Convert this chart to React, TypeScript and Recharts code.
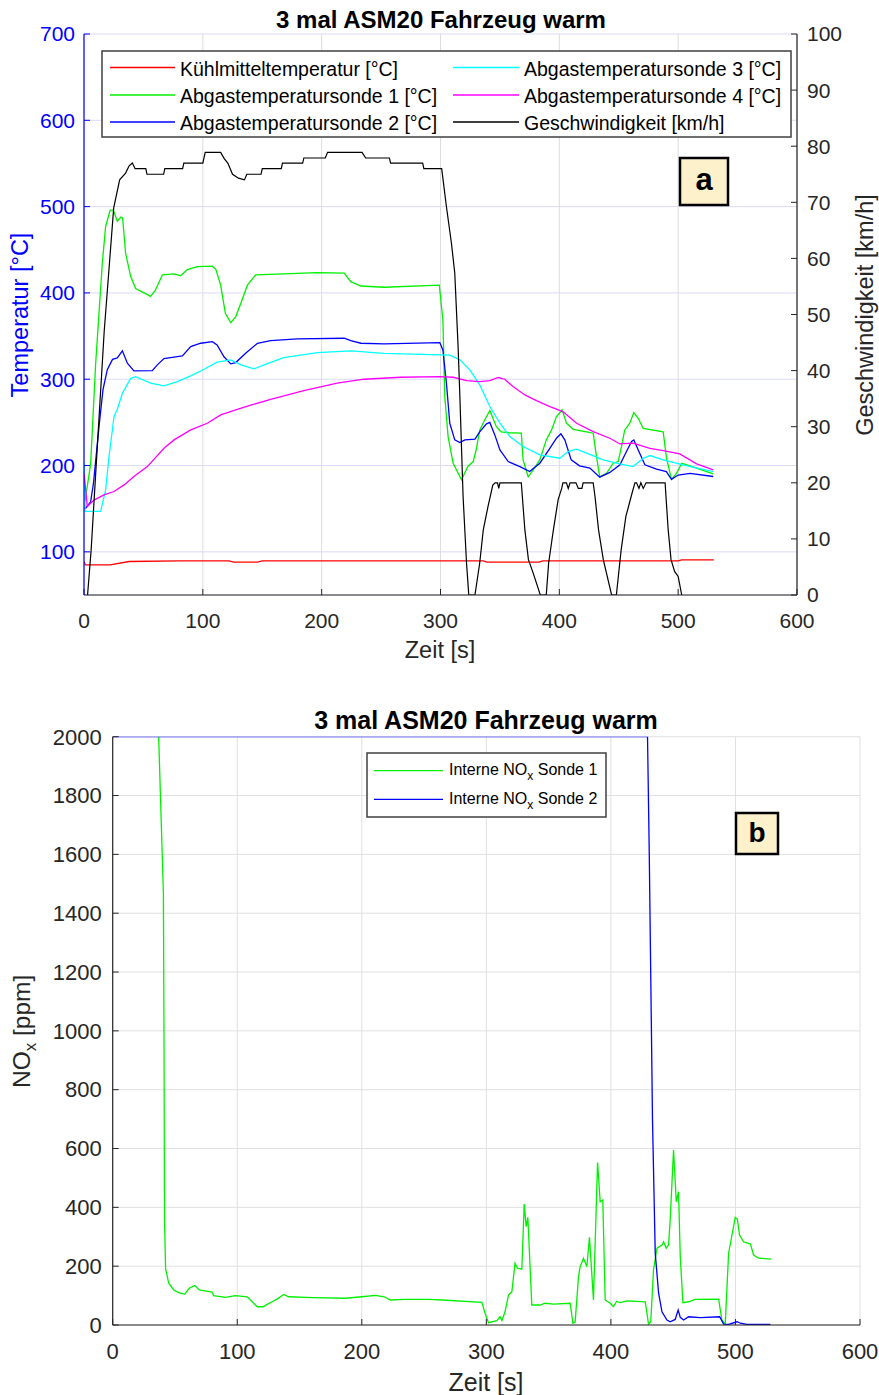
import React from "react";
import { LineChart, Line, XAxis, YAxis, CartesianGrid } from "recharts";

type Pair = [number, number];

const FONT = '"Liberation Sans", Arial, Helvetica, sans-serif';
const AXIS = "#262626";

const timeTicks = [0, 100, 200, 300, 400, 500, 600];
const tempTicks = [100, 200, 300, 400, 500, 600, 700];
const speedTicks = [0, 10, 20, 30, 40, 50, 60, 70, 80, 90, 100];
const noxTicks = [0, 200, 400, 600, 800, 1000, 1200, 1400, 1600, 1800, 2000];

// [Zeit s, Temperatur °C]
const coolantTemp: Pair[] = [
  [0, 89], [1, 85], [22, 85], [38, 88.8], [80, 89.6], [122, 89.6], [126, 88], [146, 88], [150, 89.6],
  [336, 89.6], [339, 88], [383, 88], [386, 89.6], [500, 89.6], [503, 90.7], [530, 90.7],
];

const exhaustProbe1: Pair[] = [
  [0, 162], [1, 160], [5.6, 202], [9.8, 318], [12.6, 376], [15.4, 434], [18.2, 477], [22, 496], [24.7, 496],
  [28, 483], [31, 488], [32.5, 487], [35, 446], [39.3, 419], [43.5, 405], [50.5, 400], [56, 396], [60, 403],
  [66, 421], [75.8, 422], [81.4, 420], [87, 427], [95.4, 430.5], [108, 431], [111, 427], [115, 409], [119, 376],
  [123.5, 365.6], [127.7, 372.6], [132, 388], [137.5, 409], [144.5, 421], [168, 422], [196, 423.6], [219, 423],
  [224.5, 413], [233, 408], [252.5, 406.6], [299, 409], [302, 368.7], [303.6, 280], [306.4, 233.6], [310.6, 202.7],
  [317.7, 183.4], [323, 199], [327.5, 204.6], [330, 218], [333, 241], [337.3, 253], [341.5, 263.7], [347, 245],
  [351, 239], [358, 238], [368, 237.5], [369.5, 206.6], [373.8, 187], [378, 195], [383.6, 206.6], [389, 229.7],
  [393.4, 241], [397.6, 256.7], [402.4, 264.5], [406, 249], [411.6, 242], [423, 239], [428.5, 237.5], [431.3, 210],
  [434, 187], [439.7, 191], [445.3, 202.7], [449.5, 204.6], [452.3, 222], [455, 241], [459.3, 249], [462.7, 261.4],
  [466.4, 254.8], [470.6, 243], [487.4, 239], [490.2, 208.5], [494.4, 184], [498.6, 191], [503, 202.7],
  [509.9, 199.6], [529.5, 190.3],
];

const exhaustProbe2: Pair[] = [
  [0, 151], [1.4, 150.6], [5.6, 158], [8, 180], [10.5, 215], [13, 250], [16, 288], [19.6, 311], [24, 323],
  [28, 324.8], [32.3, 333], [36.5, 318.5], [42, 309.7], [57.5, 310], [61.7, 316.6], [67.3, 324], [77, 326],
  [82.8, 327], [89.8, 337.8], [98.2, 341.7], [108, 343.6], [112, 339.8], [117.8, 326], [123.5, 317.8],
  [127.7, 319.3], [136, 330], [146, 341.7], [157, 344.8], [179.6, 346.7], [219, 347.5], [224.5, 344.8],
  [233, 341.7], [252.5, 341], [299.4, 342.5], [302, 334], [305, 295.4], [307.8, 249], [312, 229.7],
  [316.3, 226.6], [320.5, 229.7], [329, 230.5], [333, 239], [338.7, 248.3], [341.5, 250], [345.7, 235.5],
  [350, 218], [357, 204.6], [366.8, 198.8], [375, 193], [383.6, 202.7], [392, 220], [397.6, 231.6],
  [401.3, 236.7], [404.6, 229.7], [410, 206.6], [417, 199.6], [425.7, 197], [434, 186.5], [442.5, 192],
  [451, 200.8], [456.5, 216.2], [460.8, 227.8], [462.7, 229.7], [466.4, 218], [472, 200.8], [481.8, 195.8],
  [490, 193], [494.4, 184], [500, 189], [510, 191], [529.5, 187.3],
];

const exhaustProbe3: Pair[] = [
  [0, 203], [1, 147], [14, 147], [18.2, 171.8], [21, 210], [25.3, 256.8], [28, 265], [32.3, 283.8], [39.3, 301],
  [43.5, 303], [56, 295.4], [67.3, 292.3], [78.6, 297.3], [89.8, 303.9], [101, 311.6], [112, 319.7],
  [123.5, 322.4], [132, 316.6], [143, 312], [151.5, 316.6], [168, 325], [196.4, 330.9], [224.5, 332.8],
  [252.5, 330], [307.8, 328], [316.3, 322.4], [324.7, 310.8], [333, 293.5], [341.5, 268.4], [350, 249],
  [358.3, 233.6], [369.5, 222], [383.6, 212.4], [400.4, 208.5], [407.4, 216.2], [414.5, 218.9], [423, 214.3],
  [437, 206.6], [451, 202], [462, 198.8], [470.6, 208.5], [476.2, 211.6], [487.4, 206.6], [504, 200.8],
  [529.5, 193],
];

const exhaustProbe4: Pair[] = [
  [0, 191], [2.8, 152.5], [8.4, 160], [16.8, 166], [25.3, 169.9], [33.7, 177.6], [42, 187.3], [53.3, 198.8],
  [67.3, 220], [75.8, 229.7], [89.8, 241.3], [103.8, 249], [115, 258.7], [129, 265.2], [140.3, 269.9],
  [157, 276.8], [185, 286.9], [213, 295.4], [235.7, 300], [266.6, 302.3], [299.4, 303], [310.6, 302.3],
  [322, 298.5], [333, 297.3], [341.5, 298.5], [348.5, 302], [354, 300], [361, 291.5], [371, 281.8],
  [380.8, 275.3], [392, 268.3], [403, 262.5], [414.5, 249], [428.5, 239.4], [442.5, 231.6], [451, 225],
  [462, 225.9], [476.2, 220], [487.4, 217.4], [501.4, 213.5], [515.5, 202], [529.5, 195],
];

// [Zeit s, Geschwindigkeit km/h]
const vehicleSpeed: Pair[] = [
  [3, 0], [6, 8], [17, 47], [25, 69], [30, 74], [35, 75.2], [38, 76.5], [40.7, 77], [43, 76], [52, 76], [53, 75],
  [67, 75], [68, 76], [83, 76], [84, 77], [100, 77], [102, 78.9], [115, 78.9], [118, 77.8], [121, 77], [125, 75],
  [130, 74.3], [135, 74], [137, 75], [149, 75], [150, 76], [166, 76], [167, 77], [184, 77], [185, 77.9],
  [203, 77.9], [205, 78.9], [234, 78.9], [237, 77.9], [257, 77.9], [258, 77], [285, 77], [286, 76], [301, 76],
  [305, 69.2], [309.2, 62.7], [312, 57.4], [314.8, 44.3], [316.3, 35.4], [319, 17.6], [321.9, 5.7], [323.8, 0],
  [329, 0], [333, 5.7], [336, 11.6], [340, 15.8], [344, 19.6], [346, 20], [348, 20], [349, 19], [350, 20],
  [368, 20], [371, 11.6], [374, 6.3], [378, 3.9], [384, 0], [389, 0], [391, 5.7], [395, 11.6], [399, 17],
  [402, 19], [403, 20], [406, 20], [407.5, 19], [409, 20], [414, 20], [416, 19], [419, 19], [420, 20],
  [428.5, 20], [430, 17.6], [433, 11.6], [437, 6.3], [444, 0], [448, 0], [452, 8], [456, 14], [461, 18],
  [463.6, 20], [465, 20], [467, 19], [468.6, 20], [470.6, 19], [473, 20], [489, 20], [491.6, 11.6], [494, 6.3],
  [497, 4.2], [500, 3.3], [503, 0],
];

// [Zeit s, NOx ppm]
const noxProbe1: Pair[] = [
  [36.9, 2000], [40.7, 1468], [41.2, 969], [41.6, 357], [42.5, 190], [45, 142], [49, 119], [53, 110],
  [57.8, 105], [61.5, 125], [65.8, 134], [69.6, 119], [79.8, 112], [81, 100], [90.5, 94], [98.5, 100],
  [108, 96], [112, 79], [116, 62], [121, 62], [124, 70], [128, 79], [132, 88], [137.3, 104], [141.3, 96],
  [160, 93], [187, 91], [200, 96], [211, 101], [218, 96], [223, 85], [235, 87], [254, 87], [264.5, 85],
  [296.4, 77], [299, 40], [301.7, 8], [308.4, 15], [311, 28], [312.5, 15], [315, 45], [317.8, 102],
  [320.5, 113], [323, 210], [325, 193], [328.5, 190], [330.4, 411], [332, 334], [333.3, 366], [336.5, 68],
  [343.2, 68], [347.2, 74], [354, 71], [367.3, 74], [369.5, 6], [371.3, 10], [374, 165], [375.3, 198],
  [378, 227], [380.7, 198], [382.8, 298], [386, 85], [389.3, 552], [391.4, 419], [393.5, 425], [395.4, 85],
  [399.5, 74], [402, 62], [404.5, 80], [407.5, 76], [412.8, 82], [427.6, 79], [430.2, 3], [432, 10],
  [434.2, 187], [437, 261], [441, 272], [442.3, 283], [444.4, 261], [446.3, 272], [447.6, 357], [450.3, 595],
  [452.5, 419], [454.3, 453], [455.7, 232], [457.8, 76], [462.4, 79], [467.7, 87], [486.5, 88], [489.1, 17],
  [491.8, 3], [494.5, 244], [499.8, 366], [501.5, 360], [503.3, 306], [506.5, 283], [512, 275], [514.6, 238],
  [518.6, 227], [528.8, 224],
];

const noxProbe2: Pair[] = [
  [0, 2000], [429.4, 2000], [430.8, 1603], [432.6, 980], [433.4, 697], [435.6, 244], [438.3, 108], [441, 45],
  [445, 17], [447.6, 11], [451.6, 19], [454, 51], [455.7, 26], [458.4, 17], [462.4, 28], [471.7, 25],
  [487.3, 28], [490.5, 3], [494.5, 2], [501.2, 11], [504, 6], [509.2, 2], [528, 2],
];

const toPoints = (pairs: Pair[]) => pairs.map(([t, v]) => ({ t, v }));

const tempSeries = [
  { name: "Kühlmitteltemperatur [°C]", color: "#ff0000", data: coolantTemp },
  { name: "Abgastemperatursonde 1 [°C]", color: "#00f000", data: exhaustProbe1 },
  { name: "Abgastemperatursonde 2 [°C]", color: "#0000ff", data: exhaustProbe2 },
  { name: "Abgastemperatursonde 3 [°C]", color: "#00ffff", data: exhaustProbe3 },
  { name: "Abgastemperatursonde 4 [°C]", color: "#ff00ff", data: exhaustProbe4 },
];
const speedSeries = { name: "Geschwindigkeit [km/h]", color: "#000000", data: vehicleSpeed };

const topLegend = [...tempSeries, speedSeries];
const noxSeries = [
  { label: "Sonde 1", color: "#00f000", data: noxProbe1 },
  { label: "Sonde 2", color: "#0000ff", data: noxProbe2 },
];

const tickStyle = (fill: string, size: number) => ({ fill, fontSize: size, fontFamily: FONT });

const TemperatureChart = () => (
  <LineChart width={879} height={680} margin={{ top: 34, right: 0, bottom: 25, left: 0 }}>
    <CartesianGrid yAxisId="temp" vertical={false} stroke="#dadaf8" strokeWidth={1} />
    <CartesianGrid yAxisId="temp" horizontal={false} stroke="#dcdce2" strokeWidth={1} />
    <XAxis
      dataKey="t" type="number" domain={[0, 600]} ticks={timeTicks} interval={0} height={60}
      tickSize={-6} tickMargin={24} allowDataOverflow
      axisLine={{ stroke: AXIS, strokeWidth: 1.2 }} tickLine={{ stroke: AXIS }} tick={tickStyle(AXIS, 21)}
    />
    <YAxis
      yAxisId="temp" orientation="left" type="number" domain={[50, 700]} ticks={tempTicks} interval={0}
      width={84} tickSize={-6} tickMargin={15} allowDataOverflow
      axisLine={{ stroke: "#0000ff", strokeWidth: 1.2 }} tickLine={{ stroke: "#0000ff" }} tick={tickStyle("#0000ff", 21)}
    />
    <YAxis
      yAxisId="speed" orientation="right" type="number" domain={[0, 100]} ticks={speedTicks} interval={0}
      width={82} tickSize={-6} tickMargin={16} allowDataOverflow
      axisLine={{ stroke: AXIS, strokeWidth: 1.2 }} tickLine={{ stroke: AXIS }} tick={tickStyle(AXIS, 21)}
    />
    {tempSeries.map((s) => (
      <Line
        key={s.name} yAxisId="temp" data={toPoints(s.data)} dataKey="v" name={s.name} type="linear"
        stroke={s.color} strokeWidth={1.3} dot={false} isAnimationActive={false}
      />
    ))}
    <Line
      yAxisId="speed" data={toPoints(speedSeries.data)} dataKey="v" name={speedSeries.name} type="linear"
      stroke={speedSeries.color} strokeWidth={1.2} dot={false} isAnimationActive={false}
    />
  </LineChart>
);

const NoxChart = () => (
  <LineChart width={879} height={695} margin={{ top: 36.7, right: 19, bottom: 20, left: 0 }}>
    <CartesianGrid stroke="#e0e0e0" strokeWidth={1} />
    <XAxis
      dataKey="t" type="number" domain={[0, 600]} ticks={timeTicks} interval={0} height={50}
      tickSize={-6} tickMargin={24} allowDataOverflow
      axisLine={{ stroke: AXIS, strokeWidth: 1.2 }} tickLine={{ stroke: AXIS }} tick={tickStyle(AXIS, 22)}
    />
    <YAxis
      type="number" domain={[0, 2000]} ticks={noxTicks} interval={0} width={112.7}
      tickSize={-6} tickMargin={17} allowDataOverflow
      axisLine={{ stroke: AXIS, strokeWidth: 1.2 }} tickLine={{ stroke: AXIS }} tick={tickStyle(AXIS, 22)}
    />
    {noxSeries.map((s) => (
      <Line
        key={s.label} data={toPoints(s.data)} dataKey="v" name={s.label} type="linear"
        stroke={s.color} strokeWidth={1.3} dot={false} isAnimationActive={false}
      />
    ))}
  </LineChart>
);

// titles, axis labels, legends and panel tags drawn on top of both charts
const Annotations = () => {
  const rowsY = [67.5, 95, 122];
  const cols = [
    { x1: 110, x2: 175, tx: 180 },
    { x1: 453, x2: 519, tx: 524 },
  ];
  return (
    <svg
      width={879} height={1395} fontFamily={FONT}
      style={{ position: "absolute", left: 0, top: 0, pointerEvents: "none" }}
    >
      {/* panel a */}
      <text x={441} y={28} textAnchor="middle" fontSize={24} fontWeight="bold" fill="#000">
        3 mal ASM20 Fahrzeug warm
      </text>
      <text x={440} y={658} textAnchor="middle" fontSize={23.5} fill={AXIS}>Zeit [s]</text>
      <text x={28} y={315} textAnchor="middle" fontSize={23.5} fill="#0000ff" transform="rotate(-90 28 315)">
        Temperatur [°C]
      </text>
      <text x={873} y={315} textAnchor="middle" fontSize={23.5} fill={AXIS} transform="rotate(-90 873 315)">
        Geschwindigkeit [km/h]
      </text>
      <rect x={102} y={51} width={689} height={86} fill="#fff" stroke="#404040" strokeWidth={1.5} />
      {topLegend.map((s, i) => {
        const c = cols[Math.floor(i / 3)];
        const y = rowsY[i % 3];
        return (
          <g key={s.name}>
            <line x1={c.x1} x2={c.x2} y1={y} y2={y} stroke={s.color} strokeWidth={1.3} />
            <text x={c.tx} y={y + 8} fontSize={19.5} fill="#000">{s.name}</text>
          </g>
        );
      })}
      <rect x={680} y={158} width={48} height={47} fill="#fdf1cc" stroke="#000" strokeWidth={2.5} />
      <text x={704} y={190} textAnchor="middle" fontSize={31} fontWeight="bold" fill="#000">a</text>

      {/* panel b */}
      <text x={486} y={729} textAnchor="middle" fontSize={25} fontWeight="bold" fill="#000">
        3 mal ASM20 Fahrzeug warm
      </text>
      <text x={486} y={1391} textAnchor="middle" fontSize={25} fill={AXIS}>Zeit [s]</text>
      <text x={29.5} y={1088} fontSize={24.5} fill={AXIS} transform="rotate(-90 29.5 1088)">
        NO<tspan fontSize={17} dy={6}>x</tspan><tspan dy={-6}> [ppm]</tspan>
      </text>
      <rect x={367} y={753} width={239} height={64} fill="#fff" stroke="#404040" strokeWidth={1.5} />
      {noxSeries.map((s, i) => {
        const y = [770.7, 799.3][i];
        return (
          <g key={s.label}>
            <line x1={374} x2={443} y1={y} y2={y} stroke={s.color} strokeWidth={1.3} />
            <text x={449} y={y + 4.5} fontSize={16} fill="#000">
              Interne NO<tspan fontSize={12} dy={5}>x</tspan><tspan dy={-5}> {s.label}</tspan>
            </text>
          </g>
        );
      })}
      <rect x={736} y={813} width={42} height={41} fill="#fdf1cc" stroke="#000" strokeWidth={2.5} />
      <text x={757} y={842} textAnchor="middle" fontSize={28} fontWeight="bold" fill="#000">b</text>
    </svg>
  );
};

export default function App() {
  return (
    <div style={{ position: "absolute", left: 0, top: 0, width: 879, height: 1395, background: "#fff" }}>
      <div style={{ position: "absolute", left: 0, top: 0 }}>
        <TemperatureChart />
      </div>
      <div style={{ position: "absolute", left: 0, top: 700 }}>
        <NoxChart />
      </div>
      <Annotations />
    </div>
  );
}
